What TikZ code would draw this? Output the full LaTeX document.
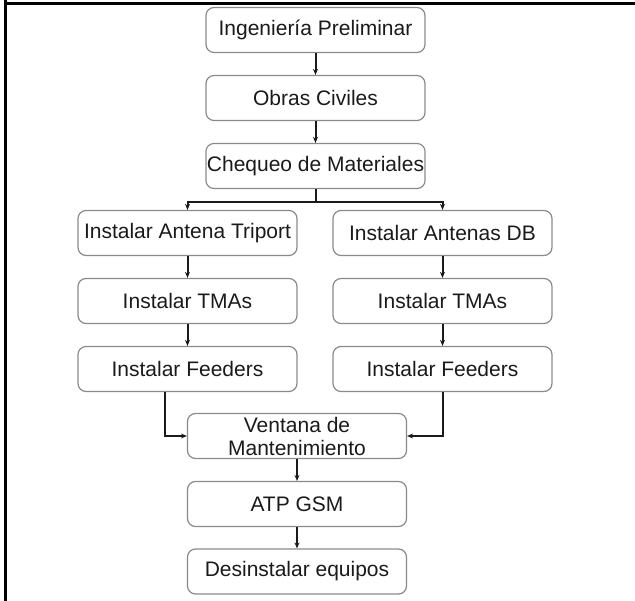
\documentclass[tikz,border=0pt]{standalone}
\usepackage{fontspec}
\setmainfont{Liberation Sans}
\usetikzlibrary{arrows.meta}
\definecolor{boxline}{HTML}{8A8A8A}
\definecolor{ink}{HTML}{1A1A1A}
\begin{document}
\begin{tikzpicture}[x=1pt,y=-1pt,
  stepbox/.style={draw=boxline, line width=1.2pt, rounded corners=8pt,
    minimum width=219pt, minimum height=45pt, inner xsep=1pt, inner ysep=2pt,
    align=center, text=ink, font=\fontsize{21}{23}\selectfont},
  link/.style={draw=ink, line width=2pt},
  conn/.style={link, -{Stealth[length=6pt,width=5pt]}}]
  \useasboundingbox (0,0) rectangle (635,601);
  % page frame (left and top rules)
  \draw[line width=3.5pt] (5.7,0) -- (5.7,601);
  \draw[line width=3pt] (4,3.3) -- (635,3.3);

  % main column
  \node[stepbox] (ing)   at (315.5,30)  {Ingeniería Preliminar};
  \node[stepbox] (obras) at (315.5,98)  {Obras Civiles};
  \node[stepbox] (cheq)  at (315.5,166) {Chequeo de Materiales};

  % two parallel branches
  \node[stepbox] (tri)  at (187.5,233) {Instalar Antena Triport};
  \node[stepbox] (db)   at (442.5,233) {Instalar Antenas DB};
  \node[stepbox] (tmaL) at (187.5,301) {Instalar TMAs};
  \node[stepbox] (tmaR) at (442.5,301) {Instalar TMAs};
  \node[stepbox] (feL)  at (187.5,369) {Instalar Feeders};
  \node[stepbox] (feR)  at (442.5,369) {Instalar Feeders};

  % joined column
  \node[stepbox] (vent) at (297,436)   {Ventana de\\Mantenimiento};
  \node[stepbox] (atp)  at (297,504)   {ATP GSM};
  \node[stepbox] (des)  at (297,571.5) {Desinstalar equipos};

  % connectors
  \draw[conn] (ing) -- (obras);
  \draw[conn] (obras) -- (cheq);
  \coordinate (split) at (315.5,202);
  \draw[link] (cheq.south) -- (split);
  \draw[conn] (split) -| (tri.north);
  \draw[conn] (split) -| (db.north);
  \draw[conn] (tri) -- (tmaL);
  \draw[conn] (tmaL) -- (feL);
  \draw[conn] (db) -- (tmaR);
  \draw[conn] (tmaR) -- (feR);
  \draw[conn] ([xshift=-22.5pt]feL.south) |- (vent.west);
  \draw[conn] (feR.south) |- (vent.east);
  \draw[conn] (vent) -- (atp);
  \draw[conn] (atp) -- (des);
\end{tikzpicture}
\end{document}
